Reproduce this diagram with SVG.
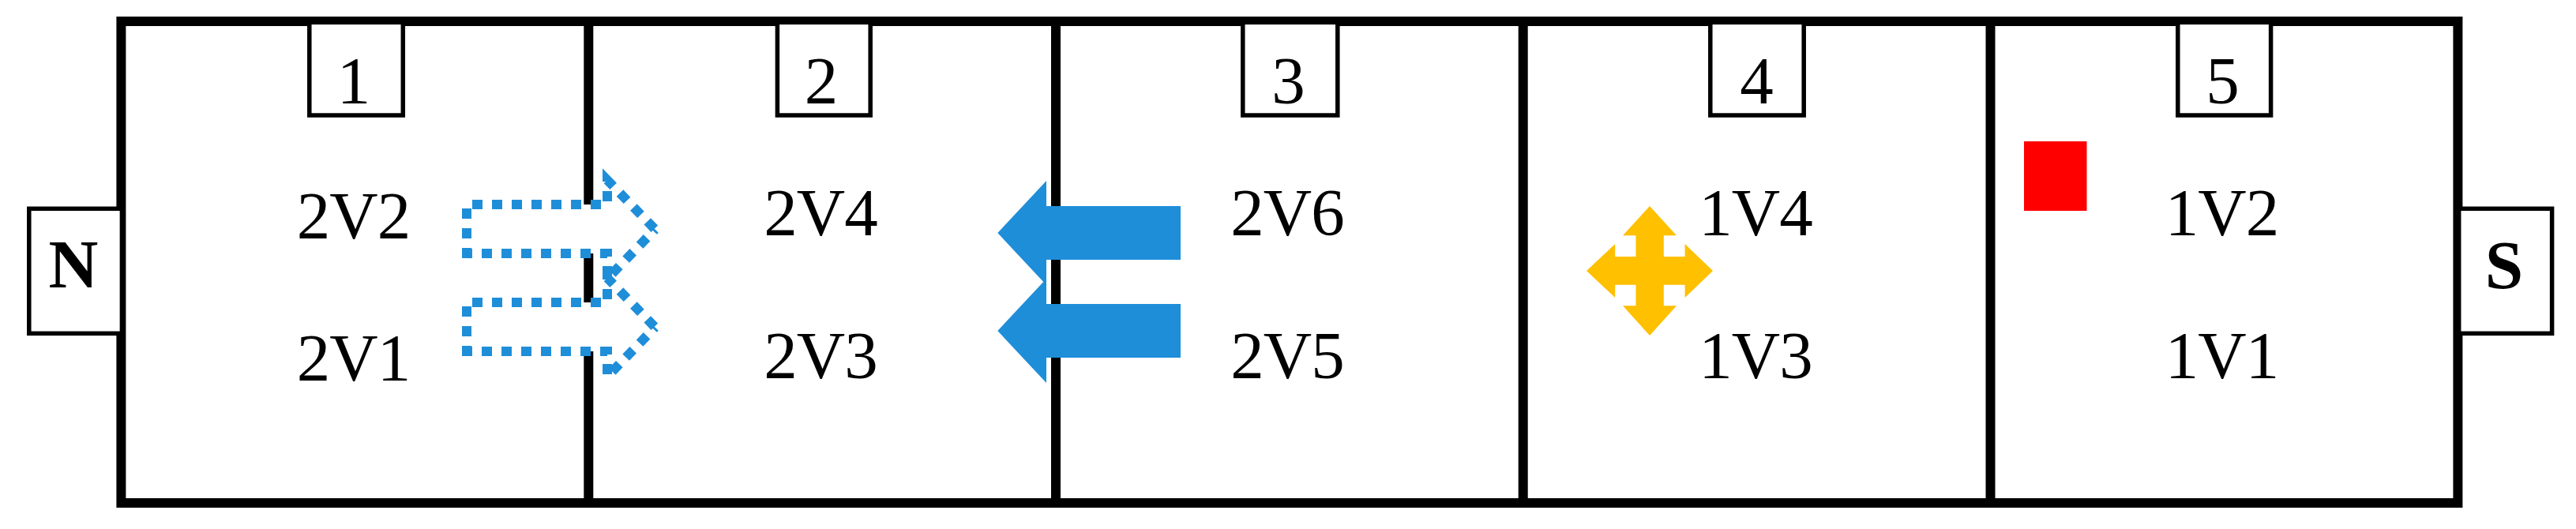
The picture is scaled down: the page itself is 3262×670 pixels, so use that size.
<svg xmlns="http://www.w3.org/2000/svg" width="3262" height="670" viewBox="0 0 3262 670">
<style>
text{font-family:"Liberation Serif","Times New Roman",serif;font-size:85px;fill:#000;text-anchor:middle}
.v{letter-spacing:-1px}
.b{font-weight:bold;font-size:87px}
.tag{fill:#fff;stroke:#000;stroke-width:5.5}
.wall{fill:none;stroke:#000;stroke-width:12}
.solid{fill:#1f8ed9}
.dotfill{fill:#fff}
.dot{fill:none;stroke:#1f8ed9;stroke-width:12;stroke-dasharray:13 12;stroke-miterlimit:10}
</style>
<rect width="3262" height="670" fill="#fff"/>
<g id="frame">
<rect class="wall" x="153.4" y="27" width="2959" height="610"/>
<path class="wall" d="M745.3 27V637M1337 27V637M1928.7 27V637M2520.5 27V637"/>
</g>
<g id="magnet-n"><rect class="tag" x="36.8" y="264.3" width="117.6" height="158"/><text class="b" x="93" y="364">N</text></g>
<g id="magnet-s"><rect class="tag" x="3113.7" y="264.3" width="117.9" height="158"/><text class="b" x="3171" y="365">S</text></g>
<g id="cell-1"><rect class="tag" x="391.8" y="28.3" width="118.5" height="117.7"/><text x="448" y="130.5">1</text><text class="v" x="447.5" y="301.5">2V2</text><text class="v" x="447.5" y="481.6">2V1</text></g>
<g id="cell-2"><rect class="tag" x="984.4" y="28.3" width="117.8" height="117.7"/><text x="1040" y="130.5">2</text><text class="v" x="1039" y="298.3">2V4</text><text class="v" x="1039" y="479">2V3</text></g>
<g id="cell-3"><rect class="tag" x="1573.8" y="28.3" width="120" height="117.7"/><text x="1631.5" y="130.5">3</text><text class="v" x="1630" y="298.3">2V6</text><text class="v" x="1630" y="479">2V5</text></g>
<g id="cell-4"><rect class="tag" x="2165.8" y="28.3" width="118.4" height="117.7"/><text x="2224.5" y="130.5">4</text><text class="v" x="2223" y="298.3">1V4</text><text class="v" x="2223" y="479">1V3</text></g>
<g id="cell-5"><rect class="tag" x="2757.8" y="28.3" width="117.8" height="117.7"/><text x="2814.5" y="130.5">5</text><text class="v" x="2813.5" y="298.3">1V2</text><text class="v" x="2813.5" y="479">1V1</text></g>
<g id="connectors">
<g id="dotted-arrow-1">
<path class="dotfill" d="M591 259H769V228L829.5 290.5L769 353V321H591Z"/>
<path class="dot" d="M591 327V259H769V228L829.5 290.5M585 321H769V353L829.5 290.5"/>
</g>
<g id="dotted-arrow-2" transform="translate(0 124)">
<path class="dotfill" d="M591 259H769V228L829.5 290.5L769 353V321H591Z"/>
<path class="dot" d="M591 327V259H769V228L829.5 290.5M585 321H769V353L829.5 290.5"/>
</g>
<path id="solid-arrow-1" class="solid" d="M1495 261V329H1325V361L1263.3 295L1325 229V261Z"/>
<path id="solid-arrow-2" class="solid" d="M1495 385V453H1325V485L1263.3 419L1325 353V385Z"/>
<path id="move-arrow" fill="#ffc000" d="M2089 261L2123 298.3H2106.8V325H2133.6V309L2169 343L2133.6 377V360.7H2106.8V387.3H2123L2089 425L2055 387.3H2071.5V360.7H2045.2V377L2009 343L2045.2 309V325H2071.5V298.3H2055Z"/>
<rect id="red-square" x="2563" y="179" width="79.5" height="88" fill="#f00"/>
</g>
</svg>
